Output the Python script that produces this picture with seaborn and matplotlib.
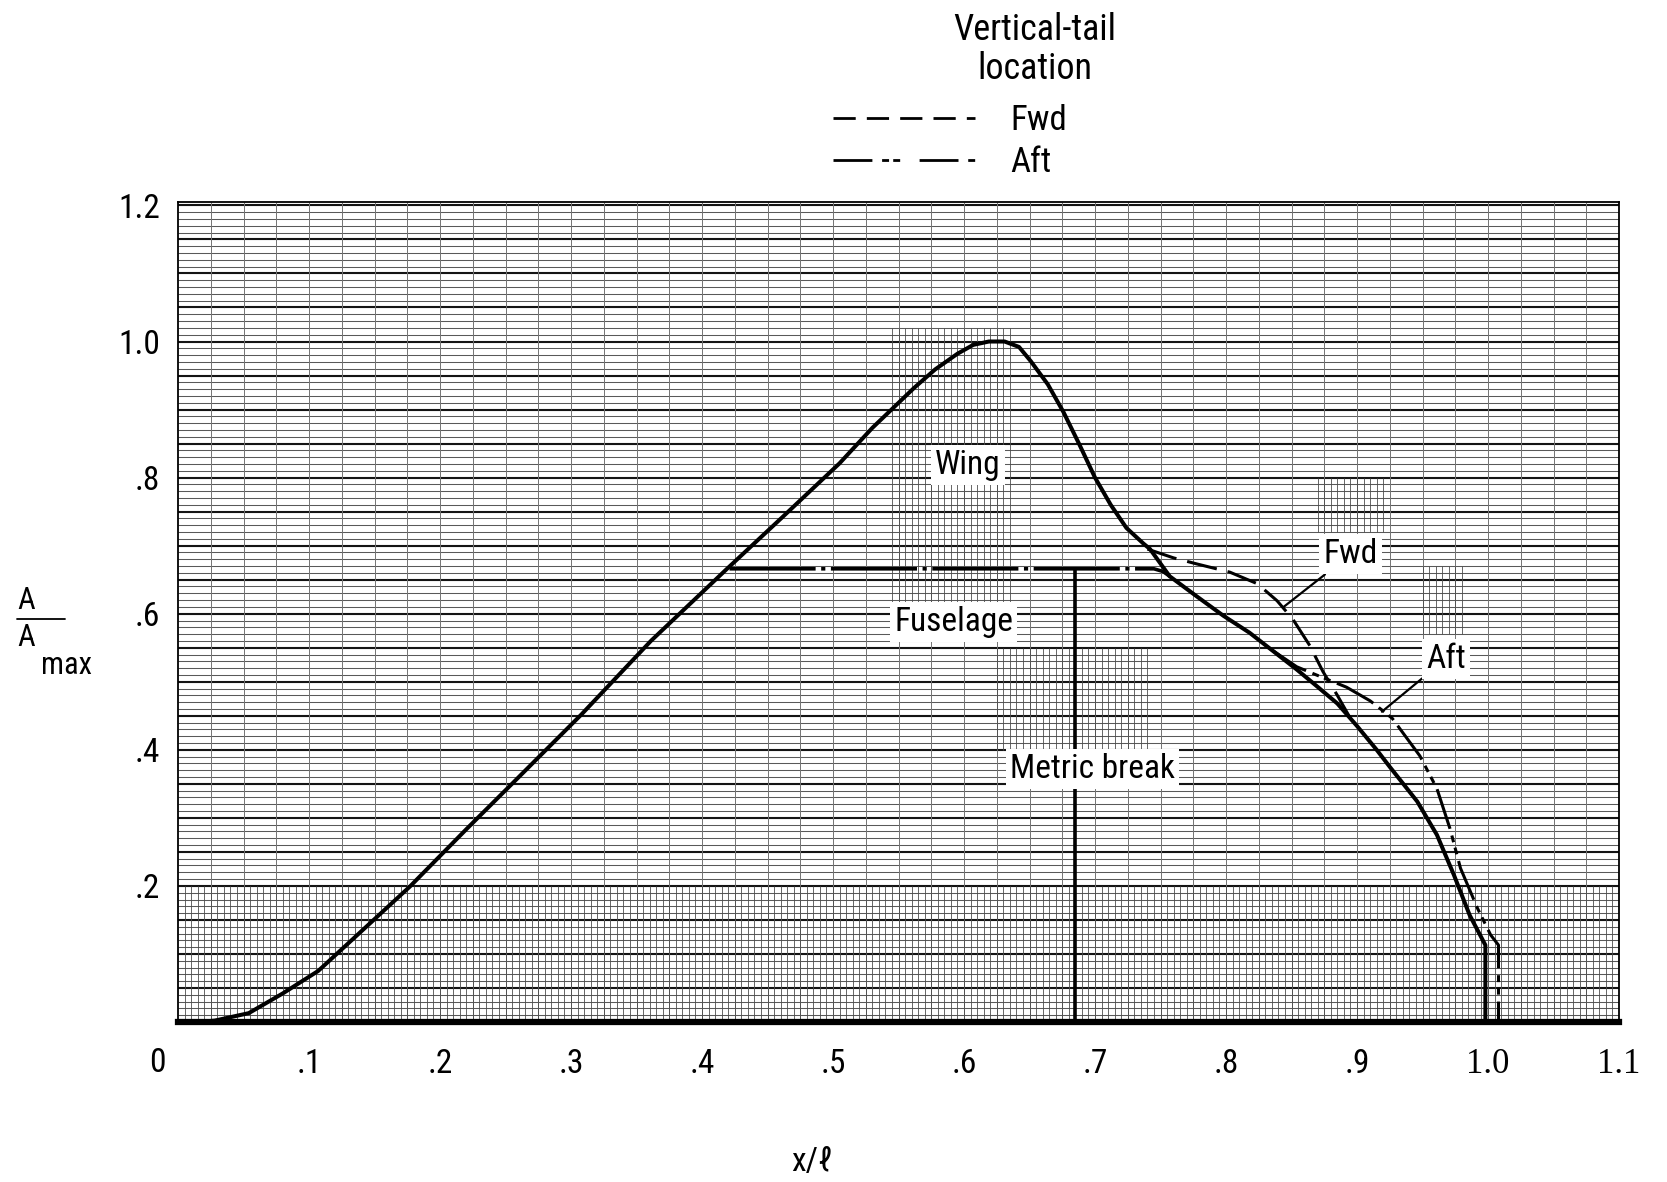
import numpy as np
import pandas as pd
import matplotlib
matplotlib.use("Agg")
import matplotlib.pyplot as plt
from matplotlib.lines import Line2D
from matplotlib import font_manager
import seaborn as sns

# ---- area distribution A/Amax versus x/l ----
# total configuration (wing + fuselage) distribution
total_x = [0.015, 0.028, 0.054, 0.080, 0.107, 0.133, 0.177, 0.221, 0.256, 0.308,
           0.361, 0.418, 0.462, 0.505, 0.530, 0.549, 0.562, 0.578, 0.595, 0.607,
           0.619, 0.631, 0.642, 0.651, 0.664, 0.676, 0.688, 0.700, 0.712, 0.724,
           0.737, 0.742, 0.757, 0.778, 0.798, 0.818, 0.834, 0.854, 0.869, 0.885,
           0.900, 0.915, 0.925, 0.946, 0.961, 0.974, 0.986, 0.998, 0.998]
total_y = [0.000, 0.002, 0.013, 0.042, 0.075, 0.121, 0.199, 0.285, 0.352, 0.452,
           0.560, 0.664, 0.743, 0.821, 0.873, 0.908, 0.932, 0.959, 0.982, 0.995,
           1.000, 1.000, 0.992, 0.971, 0.937, 0.896, 0.849, 0.800, 0.760, 0.726,
           0.703, 0.695, 0.655, 0.625, 0.597, 0.572, 0.548, 0.518, 0.494, 0.468,
           0.435, 0.400, 0.375, 0.324, 0.275, 0.216, 0.157, 0.113, 0.000]

# forward vertical-tail location (departs from the total curve, rejoins near x/l = .9)
fwd_x = [0.740, 0.760, 0.778, 0.803, 0.824, 0.839, 0.851, 0.864, 0.874, 0.885, 0.895]
fwd_y = [0.695, 0.682, 0.673, 0.661, 0.644, 0.619, 0.592, 0.553, 0.515, 0.480, 0.446]

# aft vertical-tail location
aft_x = [0.834, 0.854, 0.869, 0.892, 0.910, 0.920, 0.927, 0.948, 0.961, 0.971,
         0.979, 0.992, 1.002, 1.008, 1.008]
aft_y = [0.548, 0.522, 0.510, 0.492, 0.472, 0.457, 0.446, 0.391, 0.343, 0.284,
         0.226, 0.167, 0.128, 0.113, 0.000]

# fuselage alone (constant section)
fus_x = [0.421, 0.745, 0.752, 0.757]
fus_y = [0.666, 0.666, 0.662, 0.655]

# metric break station
metric_break_x = 0.685
metric_break_top = 0.666

x_ticks = [0.1, 0.2, 0.3, 0.4, 0.5, 0.6, 0.7, 0.8, 0.9, 1.0, 1.1]
x_tick_labels = [".1", ".2", ".3", ".4", ".5", ".6", ".7", ".8", ".9", "1.0", "1.1"]
y_ticks = [0.2, 0.4, 0.6, 0.8, 1.0, 1.2]
y_tick_labels = [".2", ".4", ".6", ".8", "1.0", "1.2"]

# ---- style ----
sns.set_theme(style="white")
names = {f.name for f in font_manager.fontManager.ttflist}
if "Liberation Sans Narrow" in names:
    family, stretch = "Liberation Sans Narrow", "normal"
elif "Roboto Condensed" in names:
    family, stretch = "Roboto Condensed", "normal"
else:
    family, stretch = "DejaVu Sans", "condensed"
plt.rcParams["font.family"] = [family, "DejaVu Sans"]
plt.rcParams["font.stretch"] = stretch
plt.rcParams["lines.scale_dashes"] = False
plt.rcParams["text.color"] = "black"
plt.rcParams["xtick.color"] = "black"
plt.rcParams["ytick.color"] = "black"

W, H = 1667, 1182
fig = plt.figure(figsize=(W / 100, H / 100), dpi=100)
left_px, right_px, top_px, bottom_px = 178, 1619, 202, 1022
ax = fig.add_axes([left_px / W, 1 - bottom_px / H,
                   (right_px - left_px) / W, (bottom_px - top_px) / H])
ax.set_xlim(0, 1.1)
ax.set_ylim(0, 1.205)

# ---- graph-paper ruling ----
ax.hlines(np.round(np.arange(0.01, 1.205, 0.01), 3), 0, 1.1, colors="0.35", lw=0.75, zorder=0)
ax.hlines(np.round(np.arange(0.05, 1.205, 0.05), 3), 0, 1.1, colors="0.08", lw=1.5, zorder=0)
ax.vlines(np.round(np.arange(0.025, 1.1, 0.025), 3), 0, 1.205, colors="0.45", lw=0.7, zorder=0)
ax.vlines(np.round(np.arange(0.005, 1.1, 0.005), 3), 0, 0.2, colors="0.3", lw=0.6, zorder=0)
fine_blocks = [(0.545, 0.640, 0.59, 1.02), (0.625, 0.745, 0.40, 0.55),
               (0.870, 0.920, 0.72, 0.80), (0.950, 0.980, 0.57, 0.67)]
for x0, x1, y0, y1 in fine_blocks:
    ax.vlines(np.round(np.arange(x0, x1, 0.005), 3), y0, y1, colors="0.3", lw=0.6, zorder=0)

# ---- curves ----
sns.lineplot(x=total_x, y=total_y, ax=ax, sort=False, estimator=None,
             color="black", lw=2.9, zorder=3)
sns.lineplot(x=fwd_x, y=fwd_y, ax=ax, sort=False, estimator=None,
             color="black", lw=2.2, linestyle=(0, (22, 8)), zorder=3)
sns.lineplot(x=aft_x, y=aft_y, ax=ax, sort=False, estimator=None,
             color="black", lw=2.2, linestyle=(0, (30, 5, 5, 4, 5, 5)), zorder=3)
sns.lineplot(x=fus_x, y=fus_y, ax=ax, sort=False, estimator=None,
             color="black", lw=2.6, linestyle=(0, (62, 4, 3, 4)), zorder=3)
ax.vlines([metric_break_x], 0, metric_break_top, colors="black", lw=2.6, zorder=3)

# ---- labels on the chart ----
box = dict(fc="white", ec="none", pad=3)
fs_lab = 24
ax.text(0.603, 0.819, "Wing", ha="center", va="center", fontsize=fs_lab, bbox=box, zorder=6)
ax.text(0.592, 0.588, "Fuselage", ha="center", va="center", fontsize=fs_lab, bbox=box, zorder=6)
ax.text(0.698, 0.372, "Metric break", ha="center", va="center", fontsize=fs_lab, bbox=box, zorder=6)
ax.annotate("Fwd", xy=(0.844, 0.610), xytext=(0.895, 0.687), ha="center", va="center",
            fontsize=fs_lab, bbox=box, zorder=6,
            arrowprops=dict(arrowstyle="-", lw=1.6, color="black", shrinkA=0, shrinkB=0))
ax.annotate("Aft", xy=(0.919, 0.456), xytext=(0.968, 0.534), ha="center", va="center",
            fontsize=fs_lab, bbox=box, zorder=6,
            arrowprops=dict(arrowstyle="-", lw=1.6, color="black", shrinkA=0, shrinkB=0))

# ---- axes, ticks ----
ax.set_xticks(x_ticks)
ax.set_xticklabels(x_tick_labels)
ax.set_yticks(y_ticks)
ax.set_yticklabels(y_tick_labels)
ax.tick_params(axis="x", length=0, pad=19, labelsize=24)
ax.tick_params(axis="y", length=0, pad=13, labelsize=24)
for tick in ax.xaxis.get_major_ticks():
    if tick.label1.get_text() in ("1.0", "1.1"):
        tick.label1.set_fontfamily(["Liberation Serif", "DejaVu Serif"])
        tick.label1.set_fontsize(25)
ax.text(-0.016, -0.05, "0", transform=ax.get_xaxis_transform(), ha="center", va="center",
        fontsize=24)
ax.set_xlabel("")
ax.set_ylabel("")

for side in ("left", "right", "top"):
    ax.spines[side].set_visible(True)
    ax.spines[side].set_color("black")
    ax.spines[side].set_linewidth(1.3)
ax.spines["bottom"].set_color("black")
ax.spines["bottom"].set_linewidth(4.5)

# axis titles
fig.text(26 / W, 1 - 601 / H, "A", ha="center", va="center", fontsize=22)
fig.add_artist(Line2D([17 / W, 65 / W], [1 - 619 / H, 1 - 619 / H], color="black", lw=1.3,
                      transform=fig.transFigure))
fig.text(26 / W, 1 - 637 / H, "A", ha="center", va="center", fontsize=22)
fig.text(66 / W, 1 - 665 / H, "max", ha="center", va="center", fontsize=22)
fig.text(812 / W, 1 - 1162 / H, "x/\u2113", ha="center", va="center", fontsize=24)

# legend
fig.text(1035 / W, 1 - 30 / H, "Vertical-tail", ha="center", va="center", fontsize=26)
fig.text(1035 / W, 1 - 69 / H, "location", ha="center", va="center", fontsize=26)
handles = [Line2D([], [], color="black", lw=2.0, linestyle=(0, (16, 8))),
           Line2D([], [], color="black", lw=2.0, linestyle=(0, (28, 7, 5, 3, 5, 14)))]
fig.legend(handles, ["Fwd", "Aft"], loc="upper left",
           bbox_to_anchor=(833 / W, 1 - 104 / H), frameon=False, fontsize=25,
           handlelength=4.1, handletextpad=1.0, labelspacing=0.25,
           borderpad=0, borderaxespad=0)

fig.savefig("out.png", dpi=100, facecolor="white")
